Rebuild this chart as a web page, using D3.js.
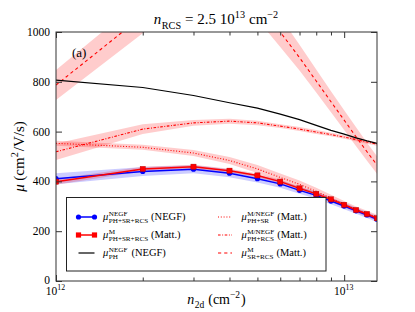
<!DOCTYPE html>
<html>
<head>
<meta charset="utf-8">
<script src="https://cdn.jsdelivr.net/npm/d3@7"></script>
<style>
  body { margin: 0; background: #fff; }
  svg text { font-family: 'Liberation Serif', 'DejaVu Serif', serif; fill: #000; }
</style>
</head>
<body>
<div id="chart"></div>
<script>
// carrier densities (cm^-2)
const densities = [1e12, 2e12, 3e12, 4e12, 5e12, 6e12, 7e12, 8e12, 9e12, 1e13, 1.1e13, 1.2e13, 1.3e13];

// mobilities (cm^2/V/s) and half-widths of the shaded bands
const muTotalNegf = [411, 440, 449, 433, 411, 390, 364, 344, 321, 301, 282, 265, 248];
const muTotalNegfErr = [22, 18, 16, 16, 15, 15, 14, 14, 13, 13, 12, 12, 12];
const muTotalMatt = [399, 450, 459, 443, 424, 399, 372, 350, 328, 306, 285, 269, 252];
const muTotalMattErr = [12, 9, 8, 8, 8, 8, 7, 7, 7, 7, 6, 6, 6];
const muPhNegf = [807, 777, 745, 716, 694, 670, 648, 625, 605, 590, 575, 563, 553];
const muPhSrMatt = [553, 537, 514, 484, 450, 416, 388, 360, 332, 308, 287, 270, 254];
const muPhSrMattErr = [10, 10, 12, 14, 16, 16, 16, 15, 14, 13, 12, 12, 12];
const muPhRcsMatt = [519, 610, 635, 642, 635, 622, 610, 598, 588, 578, 568, 558, 550];
const muPhRcsMattErr = [33, 20, 12, 10, 9, 8, 8, 8, 7, 7, 7, 7, 7];
const muSrRcsMatt = [787, 1065, 1180, 1190, 1120, 1000, 897, 803, 720, 646, 579, 519, 466];
const muSrRcsMattErr = [60, 70, 75, 75, 70, 60, 52, 46, 42, 40, 38, 36, 35];

const yTicks = [0, 200, 400, 600, 800, 1000];
const xMajorTicks = [1e12, 1e13];
const xMajorLabels = ['12', '13'];

const CHART = {
  selector: '#chart',
  options: {
    width: 415,
    height: 312,
    margins: { top: 32, right: 38, bottom: 31, left: 56 },
  },

  // lay out a small piece of math text: tokens are plain text, gaps
  // or stacked superscript / subscript pairs
  mathText: function (parent, tokens, size) {
    const g = parent.append('g');
    let cx = 0;
    tokens.forEach(function (tok) {
      if (tok.gap !== undefined) {
        cx += tok.gap;
      } else if (tok.sup !== undefined || tok.sub !== undefined) {
        let w = 0;
        if (tok.sup) {
          const s = g.append('text')
            .attr('x', cx)
            .attr('y', -size * 0.42)
            .style('font-size', size * 0.68 + 'px')
            .text(tok.sup);
          w = Math.max(w, s.node().getComputedTextLength());
        }
        if (tok.sub) {
          const s = g.append('text')
            .attr('x', cx)
            .attr('y', size * 0.3)
            .style('font-size', size * 0.68 + 'px')
            .text(tok.sub);
          w = Math.max(w, s.node().getComputedTextLength());
        }
        cx += w + 1;
      } else {
        const t = g.append('text')
          .attr('x', cx)
          .attr('y', 0)
          .style('font-size', size + 'px')
          .style('font-style', tok.i ? 'italic' : 'normal')
          .text(tok.t);
        cx += t.node().getComputedTextLength() + (tok.i ? 0.5 : 0);
      }
    });
    return { g: g, width: cx };
  },

  placeMath: function (parent, tokens, size, x, y, anchor, rotate) {
    const outer = parent.append('g')
      .attr('transform', 'translate(' + x + ',' + y + ')' + (rotate ? ' rotate(' + rotate + ')' : ''));
    const m = this.mathText(outer, tokens, size);
    const shift = anchor === 'middle' ? -m.width / 2 : anchor === 'end' ? -m.width : 0;
    m.g.attr('transform', 'translate(' + shift + ',0)');
    return outer;
  },

  init: function () {
    const o = this.options;
    const w = o.width - o.margins.left - o.margins.right;
    const h = o.height - o.margins.top - o.margins.bottom;

    const svg = d3.select(this.selector).append('svg')
      .attr('width', o.width)
      .attr('height', o.height);

    const x = d3.scaleLog().domain([1e12, 1.3e13]).range([0, w]);
    const y = d3.scaleLinear().domain([0, 1000]).range([h, 0]);

    const series = [
      { values: muPhSrMatt, err: muPhSrMattErr, color: '#ff0000', dash: '1,1.8', width: 1.1 },
      { values: muPhRcsMatt, err: muPhRcsMattErr, color: '#ff0000', dash: '2.6,1.6,0.9,1.6', width: 1.1 },
      { values: muSrRcsMatt, err: muSrRcsMattErr, color: '#ff0000', dash: '3.2,3', width: 1.1 },
      { values: muPhNegf, err: null, color: '#000000', dash: null, width: 1.2 },
      { values: muTotalNegf, err: muTotalNegfErr, color: '#0000ff', dash: null, width: 1.5, marker: 'circle' },
      { values: muTotalMatt, err: muTotalMattErr, color: '#ff0000', dash: null, width: 1.5, marker: 'square' },
    ];

    svg.append('defs').append('clipPath').attr('id', 'clip')
      .append('rect').attr('width', w).attr('height', h);

    const g = svg.append('g')
      .attr('transform', 'translate(' + o.margins.left + ',' + o.margins.top + ')');

    const plot = g.append('g').attr('clip-path', 'url(#clip)');

    const area = d3.area()
      .x(function (d) { return x(d.n); })
      .y0(function (d) { return y(d.v - d.e); })
      .y1(function (d) { return y(d.v + d.e); });
    const line = d3.line()
      .x(function (d) { return x(d.n); })
      .y(function (d) { return y(d.v); });

    const rows = function (s) {
      return densities.map(function (n, i) {
        return { n: n, v: s.values[i], e: s.err ? s.err[i] : 0 };
      });
    };

    // shaded bands
    series.forEach(function (s) {
      if (!s.err) return;
      plot.append('path')
        .attr('d', area(rows(s)))
        .attr('fill', s.color === '#0000ff' ? 'rgba(0,0,255,0.2)' : 'rgba(255,0,0,0.2)')
        .attr('stroke', 'none');
    });

    // lines and markers
    series.forEach(function (s) {
      plot.append('path')
        .attr('d', line(rows(s)))
        .attr('fill', 'none')
        .attr('stroke', s.color)
        .attr('stroke-width', s.width)
        .attr('stroke-dasharray', s.dash);
      if (s.marker === 'circle') {
        plot.selectAll(null).data(rows(s)).enter().append('circle')
          .attr('cx', function (d) { return x(d.n); })
          .attr('cy', function (d) { return y(d.v); })
          .attr('r', 2.6)
          .attr('fill', s.color);
      } else if (s.marker === 'square') {
        plot.selectAll(null).data(rows(s)).enter().append('rect')
          .attr('x', function (d) { return x(d.n) - 2.6; })
          .attr('y', function (d) { return y(d.v) - 2.6; })
          .attr('width', 5.2)
          .attr('height', 5.2)
          .attr('fill', s.color)
          .attr('stroke', '#aa0000')
          .attr('stroke-width', 0.4);
      }
    });

    // axes, ticks pointing inwards on all four sides
    const minorTicks = x.ticks().filter(function (t) {
      return xMajorTicks.indexOf(t) < 0;
    });
    const styleAxis = function (sel) {
      sel.select('.domain').remove();
      sel.selectAll('.tick line').attr('stroke', '#333');
      sel.selectAll('.tick text').remove();
    };
    g.append('g').attr('transform', 'translate(0,' + h + ')')
      .call(d3.axisBottom(x).tickValues(xMajorTicks).tickSize(-6)).call(styleAxis);
    g.append('g').attr('transform', 'translate(0,' + h + ')')
      .call(d3.axisBottom(x).tickValues(minorTicks).tickSize(-3.5)).call(styleAxis);
    g.append('g')
      .call(d3.axisTop(x).tickValues(xMajorTicks).tickSize(-6)).call(styleAxis);
    g.append('g')
      .call(d3.axisTop(x).tickValues(minorTicks).tickSize(-3.5)).call(styleAxis);
    g.append('g')
      .call(d3.axisLeft(y).tickValues(yTicks).tickSize(-6)).call(styleAxis);
    g.append('g').attr('transform', 'translate(' + w + ',0)')
      .call(d3.axisRight(y).tickValues(yTicks).tickSize(-6)).call(styleAxis);

    g.append('rect')
      .attr('x', 0).attr('y', 0).attr('width', w).attr('height', h)
      .attr('fill', 'none').attr('stroke', '#333').attr('stroke-width', 1);

    // tick labels
    g.selectAll('.ylab').data(yTicks).enter().append('text')
      .attr('class', 'ylab')
      .attr('x', -6)
      .attr('y', function (d) { return y(d) + (d === 0 ? 2.5 : 4); })
      .attr('text-anchor', 'end')
      .style('font-size', '11.5px')
      .text(function (d) { return d; });
    const self = this;
    xMajorTicks.forEach(function (t, i) {
      self.placeMath(g, [{ t: '10' }, { sup: xMajorLabels[i] }], 11.5, x(t), h + 13.5, 'middle');
    });

    // titles
    this.placeMath(svg, [
      { t: 'n', i: true }, { sub: 'RCS' }, { gap: 3 }, { t: '= 2.5 10' }, { sup: '13' },
      { gap: 3 }, { t: 'cm' }, { sup: '\u22122' },
    ], 15, o.margins.left + w / 2, 24, 'middle');
    this.placeMath(svg, [
      { t: 'n', i: true }, { sub: '2d' }, { gap: 3 }, { t: '(cm' }, { sup: '\u22122' }, { t: ')' },
    ], 14, o.margins.left + w / 2, 304, 'middle');
    this.placeMath(svg, [
      { t: '\u03bc', i: true }, { gap: 3 }, { t: '(cm' }, { sup: '2' }, { t: '/V/s)' },
    ], 15, 24, o.margins.top + h / 2, 'middle', -90);

    g.append('text')
      .attr('x', 16).attr('y', 25)
      .style('font-size', '13px')
      .text('(a)');

    // legend
    const leg = svg.append('g').attr('transform', 'translate(66.5,197.5)');
    leg.append('rect')
      .attr('width', 259.5).attr('height', 73.5)
      .attr('fill', '#fff').attr('stroke', '#222').attr('stroke-width', 1);

    const items = [
      { s: series[4], col: 0, row: 0, label: [{ t: '\u03bc', i: true }, { sup: 'NEGF', sub: 'PH+SR+RCS' }, { gap: 2 }, { t: '(NEGF)' }] },
      { s: series[5], col: 0, row: 1, label: [{ t: '\u03bc', i: true }, { sup: 'M', sub: 'PH+SR+RCS' }, { gap: 2 }, { t: '(Matt.)' }] },
      { s: series[3], col: 0, row: 2, label: [{ t: '\u03bc', i: true }, { sup: 'NEGF', sub: 'PH' }, { gap: 3 }, { t: '(NEGF)' }] },
      { s: series[0], col: 1, row: 0, label: [{ t: '\u03bc', i: true }, { sup: 'M/NEGF', sub: 'PH+SR' }, { gap: 2 }, { t: '(Matt.)' }] },
      { s: series[1], col: 1, row: 1, label: [{ t: '\u03bc', i: true }, { sup: 'M/NEGF', sub: 'PH+RCS' }, { gap: 2 }, { t: '(Matt.)' }] },
      { s: series[2], col: 1, row: 2, label: [{ t: '\u03bc', i: true }, { sup: 'M', sub: 'SR+RCS' }, { gap: 2 }, { t: '(Matt.)' }] },
    ];
    items.forEach(function (it) {
      const hx = it.col === 0 ? 12 : 151.5;
      const hw = it.col === 0 ? 16 : 14;
      const ry = 19.5 + it.row * 18;
      leg.append('line')
        .attr('x1', hx).attr('x2', hx + hw).attr('y1', ry).attr('y2', ry)
        .attr('stroke', it.s.color)
        .attr('stroke-width', it.s.width)
        .attr('stroke-dasharray', it.s.dash);
      [hx, hx + hw].forEach(function (mx) {
        if (it.s.marker === 'circle') {
          leg.append('circle').attr('cx', mx).attr('cy', ry).attr('r', 2.6).attr('fill', it.s.color);
        } else if (it.s.marker === 'square') {
          leg.append('rect').attr('x', mx - 2.6).attr('y', ry - 2.6)
            .attr('width', 5.2).attr('height', 5.2).attr('fill', it.s.color);
        }
      });
      self.placeMath(leg, it.label, 10.5, it.col === 0 ? 36.5 : 175, ry + 3, 'start');
    });
  },
};

CHART.init();
</script>
</body>
</html>
